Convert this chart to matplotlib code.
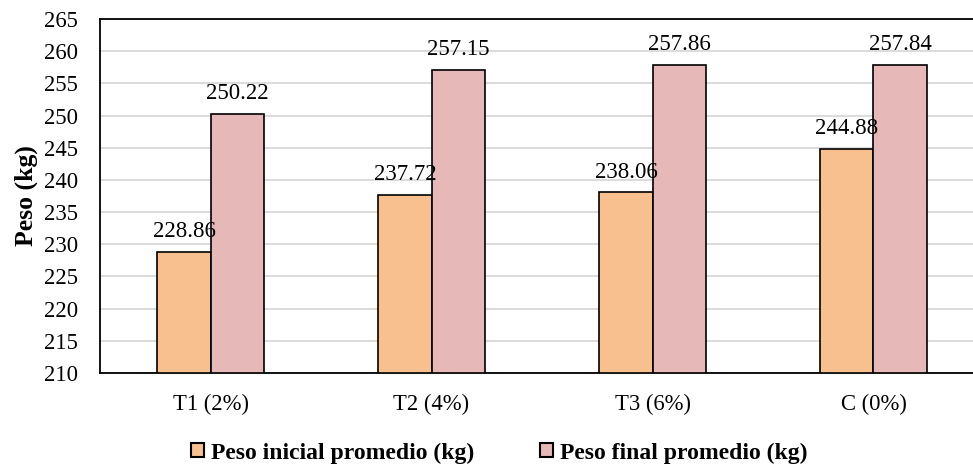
import numpy as np
import matplotlib.pyplot as plt
from matplotlib.patches import Patch

plt.rcParams['font.family'] = ['Liberation Serif', 'DejaVu Serif']

tratamientos = ['T1 (2%)', 'T2 (4%)', 'T3 (6%)', 'C (0%)']
peso_inicial = [228.86, 237.72, 238.06, 244.88]
peso_final = [250.22, 257.15, 257.86, 257.84]

color_inicial = '#F8C08F'
color_final = '#E6B8B7'

fig = plt.figure(figsize=(9.73, 4.67), dpi=100)
ax = fig.add_axes([0.1028, 0.2013, 0.9085, 0.758])

x = np.arange(len(tratamientos))
w = 0.24
ax.bar(x - w / 2, np.array(peso_inicial) - 210, w, bottom=210,
       color=color_inicial, edgecolor='black', linewidth=1.2, zorder=3)
ax.bar(x + w / 2, np.array(peso_final) - 210, w, bottom=210,
       color=color_final, edgecolor='black', linewidth=1.2, zorder=3)

# value labels above each bar
for xi, v in zip(x - w / 2, peso_inicial):
    ax.annotate(f'{v:.2f}', (xi, v), xytext=(0, 7), textcoords='offset points',
                ha='center', va='bottom', fontsize=16.5, zorder=4)
for xi, v in zip(x + w / 2, peso_final):
    ax.annotate(f'{v:.2f}', (xi, v), xytext=(0, 7), textcoords='offset points',
                ha='center', va='bottom', fontsize=16.5, zorder=4)

ax.set_xlim(-0.5, len(tratamientos) - 0.5)
ax.set_ylim(210, 265)
ax.set_yticks(np.arange(210, 266, 5))
ax.set_xticks(x)
ax.set_xticklabels(tratamientos)
ax.tick_params(axis='both', length=0, labelsize=16.3)
ax.tick_params(axis='x', pad=15)
ax.tick_params(axis='y', pad=16)
ax.yaxis.grid(True, color='#D9D9D9', linewidth=1.3, zorder=0)
ax.set_axisbelow(True)
for s in ax.spines.values():
    s.set_linewidth(1.3)
    s.set_color('black')

ax.set_ylabel('Peso (kg)', fontsize=18.5, fontweight='bold', labelpad=4)

handles = [Patch(facecolor=color_inicial, edgecolor='black', linewidth=1.5),
           Patch(facecolor=color_final, edgecolor='black', linewidth=1.5)]
fig.legend(handles, ['Peso inicial promedio (kg)', 'Peso final promedio (kg)'],
           loc='center', bbox_to_anchor=(0.513, 0.03), ncol=2, frameon=False,
           prop={'weight': 'bold', 'size': 17}, handlelength=0.55, handleheight=0.55,
           handletextpad=0.3, columnspacing=2.8)

fig.savefig('out.png', dpi=100)
